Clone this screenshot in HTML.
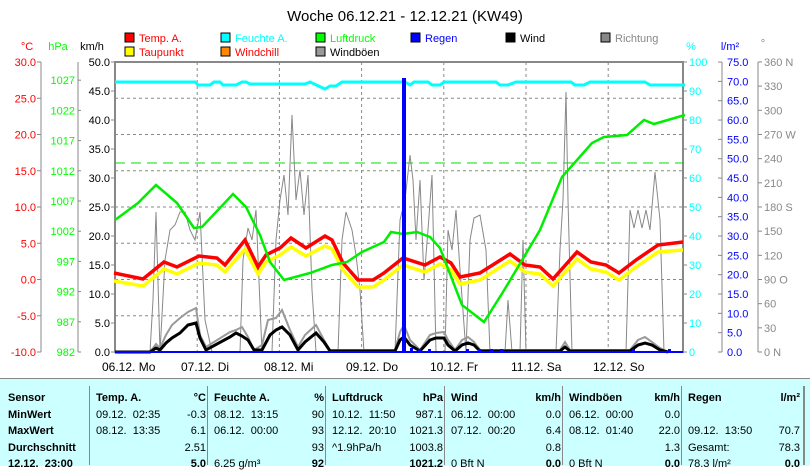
<!DOCTYPE html>
<html><head><meta charset="utf-8"><style>
body{margin:0;background:#fff;width:810px;height:465px;overflow:hidden;font-family:"Liberation Sans",sans-serif}
svg text{font-family:"Liberation Sans",sans-serif}
</style></head><body>
<svg width="810" height="465" viewBox="0 0 810 465" xmlns="http://www.w3.org/2000/svg">
<rect width="810" height="465" fill="#fff"/>
<text x="405" y="21" font-size="15" text-anchor="middle" fill="#000">Woche 06.12.21 - 12.12.21 (KW49)</text>
<g font-size="11">
<rect x="125" y="33" width="9" height="9" fill="#f00" stroke="#000"/><text x="139" y="42" fill="#f00">Temp. A.</text>
<rect x="125" y="47" width="9" height="9" fill="#ff0" stroke="#000"/><text x="139" y="56" fill="#f00">Taupunkt</text>
<rect x="221" y="33" width="9" height="9" fill="#0ff" stroke="#000"/><text x="235" y="42" fill="#0ff">Feuchte A.</text>
<rect x="221" y="47" width="9" height="9" fill="#f80" stroke="#000"/><text x="235" y="56" fill="#f00">Windchill</text>
<rect x="316" y="33" width="9" height="9" fill="#0f0" stroke="#000"/><text x="330" y="42" fill="#0f0">Luftdruck</text>
<rect x="316" y="47" width="9" height="9" fill="#999" stroke="#000"/><text x="330" y="56" fill="#000">Windböen</text>
<rect x="411" y="33" width="9" height="9" fill="#00f" stroke="#000"/><text x="425" y="42" fill="#00f">Regen</text>
<rect x="506" y="33" width="9" height="9" fill="#000" stroke="#000"/><text x="520" y="42" fill="#000">Wind</text>
<rect x="601" y="33" width="9" height="9" fill="#888" stroke="#000"/><text x="615" y="42" fill="#888">Richtung</text>
<text x="27" y="50" fill="#f00" text-anchor="middle">°C</text>
<text x="58" y="50" fill="#0f0" text-anchor="middle">hPa</text>
<text x="92" y="50" fill="#000" text-anchor="middle">km/h</text>
<text x="691" y="50" fill="#0ff" text-anchor="middle">%</text>
<text x="730" y="50" fill="#00f" text-anchor="middle">l/m²</text>
<text x="763" y="47" fill="#888" text-anchor="middle">°</text>
</g>
<g id="grid" stroke="#888" stroke-dasharray="3,3" stroke-width="1"></g>
<g id="axes"></g>
<line x1="115" y1="163" x2="683" y2="163" stroke="#0d0" stroke-dasharray="10,6"/>
<polyline id="dir" fill="none" stroke="#888" stroke-width="1" points="115,352 150,352 153,300 156,212 160,352 165,260 170,230 175,225 180,212 185,212 190,230 195,240 200,212 205,320 212,352 240,352 243,260 248,228 252,240 256,210 262,352 272,352 276,240 280,200 284,175 288,215 292,115 296,200 300,170 304,215 308,175 312,290 316,352 338,352 342,240 346,212 352,230 356,255 360,290 364,352 395,352 400,220 405,200 410,155 413,180 416,240 420,180 424,280 428,230 432,175 436,352 445,352 448,230 452,250 456,210 460,270 466,352 470,240 474,218 480,215 486,250 490,352 505,352 508,300 512,352 520,352 523,240 526,352 556,352 560,250 563,200 566,92 568,200 572,352 626,352 630,210 634,228 638,210 642,228 646,210 650,230 655,172 660,220 664,352 683,352"/>
<polyline fill="none" stroke="#999" stroke-width="2" points="115,352 150,352 156,344 160,348 166,335 172,325 180,318 188,312 196,308 200,335 206,347 230,332 236,330 242,327 248,337 254,350 262,345 268,320 276,318 282,310 290,330 298,347 305,335 316,325 324,340 330,350 395,350 400,332 404,325 410,340 420,350 430,335 436,333 444,332 448,340 455,350 462,340 468,337 474,342 480,350 560,350 565,342 570,350 630,350 638,340 645,337 652,342 660,348 668,352"/>
<polyline fill="none" stroke="#000" stroke-width="3" points="115,352 150,352 156,348 160,350 166,343 172,338 180,333 188,325 196,323 200,338 206,350 230,337 236,333 242,336 248,340 254,350 262,350 270,335 276,330 282,327 290,335 298,350 305,342 316,333 324,342 330,351 395,351 400,340 404,337 410,345 420,351 430,340 436,338 444,338 448,345 455,351 462,345 468,343 474,345 480,351 560,351 565,347 570,351 630,351 638,345 645,343 652,345 660,350 668,352"/>
<polyline fill="none" stroke="#ff0" stroke-width="3.5" points="114,281 143,286 164,269 177,274 199,263 217,265 225,272 245,249 258,274 266,262 280,255 291,247 306,256 325,246 332,249 343,270 358,287 373,287 384,280 403,265 425,272 440,264 451,270 460,284 480,280 510,261 525,272 540,274 553,286 577,259 591,269 606,272 619,280 636,267 658,252 683,250"/>
<polyline fill="none" stroke="#f00" stroke-width="3.5" points="114,273 143,279 164,262 177,267 199,256 217,258 225,265 245,240 258,267 266,255 280,248 291,238 306,248 325,236 332,240 343,263 358,280 373,280 384,273 403,258 425,265 440,257 451,263 460,277 480,273 510,254 525,265 540,267 553,279 577,252 591,262 606,265 619,273 636,260 658,245 683,242"/>
<polyline fill="none" stroke="#0e0" stroke-width="2.5" points="115,220 138,203 156,185 177,203 194,228 202,227 233,194 246,207 260,235 270,262 284,280 310,273 332,265 347,262 362,252 384,242 391,232 403,234 417,232 430,237 440,248 462,305 484,322 503,292 521,262 540,230 562,177 592,143 604,137 627,135 644,120 654,124 685,115"/>
<polyline fill="none" stroke="#0ff" stroke-width="3" points="115,82 195,82 198,85 210,85 214,82 220,82 223,85 236,85 242,82 246,82 250,84 262,84 272,84 275,84 305,84 310,82 325,89 330,86 336,86 342,82 400,82 405,82 410,85 414,82 428,82 432,85 440,85 444,82 496,82 500,85 508,85 516,82 571,82 575,85 584,85 590,82 645,82 650,85 685,85"/>
<rect x="402" y="78" width="4" height="274" fill="#00f"/>
<g fill="#00f"><rect x="410" y="348" width="3" height="4"/><rect x="418" y="349" width="3" height="3"/><rect x="428" y="349" width="3" height="3"/><rect x="466" y="349" width="3" height="3"/><rect x="478" y="349" width="3" height="3"/><rect x="490" y="349" width="3" height="3"/><rect x="500" y="349" width="3" height="3"/><rect x="632" y="349" width="3" height="3"/><rect x="668" y="349" width="3" height="3"/></g>
<line x1="115" y1="352" x2="683" y2="352" stroke="#00f" stroke-width="2"/>
<g font-size="12" fill="#000">
<text x="102" y="371">06.12. Mo</text><text x="181" y="371">07.12. Di</text><text x="264" y="371">08.12. Mi</text><text x="346" y="371">09.12. Do</text><text x="430" y="371">10.12. Fr</text><text x="511" y="371">11.12. Sa</text><text x="593" y="371">12.12. So</text>
</g>
</svg>
<div style="position:absolute;left:0;top:378px;width:810px;height:87px;background:#ccffff;border-top:1px solid #888"></div>
<div id="tbl" style="position:absolute;left:0;top:378px;width:810px;height:87px;font-size:11px;"></div>
<script>
var NS="http://www.w3.org/2000/svg";
function el(p,t,a,txt){var e=document.createElementNS(NS,t);for(var k in a)e.setAttribute(k,a[k]);if(txt!==undefined)e.textContent=txt;p.appendChild(e);return e;}
var g=document.getElementById('grid'),ax=document.getElementById('axes');
for(var i=1;i<7;i++){var x=115+i*82.2;el(g,'line',{x1:x,y1:62,x2:x,y2:352});}
for(var i=1;i<8;i++){var y=62+i*36.25;el(g,'line',{x1:115,y1:y,x2:683,y2:y});}
var S={stroke:'#888','stroke-width':2};
el(ax,'line',Object.assign({x1:115,y1:62,x2:683,y2:62},S));
el(ax,'line',Object.assign({x1:115,y1:61,x2:115,y2:353},S));
el(ax,'line',Object.assign({x1:683,y1:61,x2:683,y2:353},S));
var T={stroke:'#888','stroke-width':1};
el(ax,'line',Object.assign({x1:41,y1:62,x2:41,y2:352},T));
el(ax,'line',Object.assign({x1:78,y1:62,x2:78,y2:352},T));
el(ax,'line',Object.assign({x1:722,y1:62,x2:722,y2:352},T));
el(ax,'line',Object.assign({x1:758,y1:62,x2:758,y2:352},T));
for(var i=0;i<=8;i++){var v=30-5*i,y=62+i*36.25;el(ax,'line',Object.assign({x1:37,y1:y,x2:41,y2:y},T));el(ax,'text',{x:36,y:y+4,'font-size':11,fill:'#f00','text-anchor':'end'},v.toFixed(1));}
for(var i=0;i<=9;i++){var v=982+5*i,y=352-i*30.2;el(ax,'line',Object.assign({x1:78,y1:y,x2:81,y2:y},T));el(ax,'text',{x:75,y:y+4,'font-size':11,fill:'#0f0','text-anchor':'end'},v);}
for(var i=0;i<=10;i++){var v=5*i,y=352-i*29;el(ax,'line',Object.assign({x1:111,y1:y,x2:115,y2:y},T));el(ax,'text',{x:110,y:y+4,'font-size':11,fill:'#000','text-anchor':'end'},v.toFixed(1));
 var p=10*i;el(ax,'line',Object.assign({x1:683,y1:y,x2:687,y2:y},T));el(ax,'text',{x:689,y:y+4,'font-size':11,fill:'#0ff'},p);}
for(var i=0;i<=15;i++){var v=5*i,y=352-i*19.33;el(ax,'line',Object.assign({x1:718,y1:y,x2:722,y2:y},T));el(ax,'text',{x:727,y:y+4,'font-size':11,fill:'#00f'},v.toFixed(1));}
var lab={0:'0   N',90:'90  O',180:'180 S',270:'270 W',360:'360 N'};
for(var i=0;i<=12;i++){var v=30*i,y=352-i*24.17;el(ax,'line',Object.assign({x1:758,y1:y,x2:762,y2:y},T));el(ax,'text',{x:764,y:y+4,'font-size':11,fill:'#888','xml:space':'preserve'},lab[v]||String(v));}
var cols=[[4,88],[92,206],[210,324],[328,443],[447,561],[565,680],[684,800]];
var rows=[
["<b>Sensor</b>","<b>Temp. A.</b>|<b>°C</b>","<b>Feuchte A.</b>|<b>%</b>","<b>Luftdruck</b>|<b>hPa</b>","<b>Wind</b>|<b>km/h</b>","<b>Windböen</b>|<b>km/h</b>","<b>Regen</b>|<b>l/m²</b>"],
["<b>MinWert</b>","09.12.  02:35|-0.3","08.12.  13:15|90","10.12.  11:50|987.1","06.12.  00:00|0.0","06.12.  00:00|0.0","|"],
["<b>MaxWert</b>","08.12.  13:35|6.1","06.12.  00:00|93","12.12.  20:10|1021.3","07.12.  00:20|6.4","08.12.  01:40|22.0","09.12.  13:50|70.7"],
["<b>Durchschnitt</b>","|2.51","|93","^1.9hPa/h|1003.8","|0.8","|1.3","Gesamt:|78.3"],
["<b>12.12.  23:00</b>","|<b>5.0</b>","6.25 g/m³|<b>92</b>","|<b>1021.2</b>","0 Bft N|<b>0.0</b>","0 Bft N|<b>0.0</b>","78.3 l/m²|<b>0.0</b>"]];
var h='';
for(var c=1;c<cols.length;c++)h+='<div style="position:absolute;left:'+(cols[c][0]-3)+'px;top:8px;width:1px;height:79px;background:#888"></div>';
h+='<div style="position:absolute;left:803px;top:8px;width:2px;height:79px;background:#888"></div>';
for(var r=0;r<rows.length;r++){var y=14+r*16.5;
 for(var c=0;c<7;c++){var s=rows[r][c].split('|');
  h+='<div style="position:absolute;white-space:pre;left:'+(cols[c][0]+4)+'px;top:'+y+'px">'+s[0]+'</div>';
  if(s.length>1)h+='<div style="position:absolute;white-space:pre;right:'+(810-cols[c][1])+'px;top:'+y+'px">'+s[1]+'</div>';}}
document.getElementById('tbl').innerHTML=h;
</script>
</body></html>
